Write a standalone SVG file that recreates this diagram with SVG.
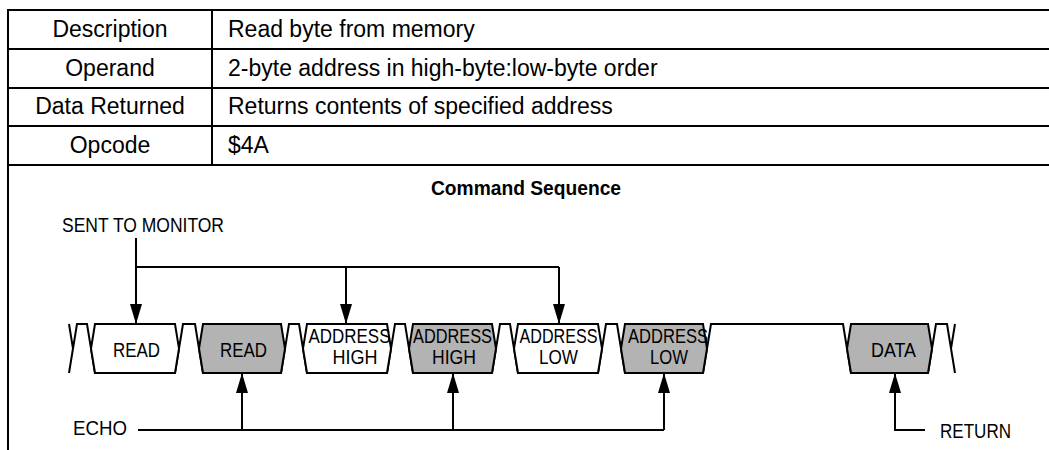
<svg xmlns="http://www.w3.org/2000/svg" width="1049" height="450" viewBox="0 0 1049 450">
<style>
.t{font-family:"Liberation Sans",Arial,sans-serif;font-size:23px;fill:#000}
.h{font-family:"Liberation Sans",Arial,sans-serif;font-size:21px;font-weight:bold;fill:#000}
.c{text-anchor:middle}
.s{font-family:"Liberation Sans",Arial,sans-serif;font-size:20px;fill:#000}
.ln{stroke:#000;stroke-width:2;fill:none}
.bw{fill:#fff;stroke:#000;stroke-width:2;stroke-linejoin:miter}
.bg{fill:#b3b3b3;stroke:#000;stroke-width:2;stroke-linejoin:miter}
.w{stroke:#000;stroke-width:2;fill:none}
</style>
<defs>
<marker id="ah" markerWidth="20" markerHeight="12" refX="20" refY="6" orient="auto" markerUnits="userSpaceOnUse" viewBox="0 0 20 12">
<path d="M0,0 L20,6 L0,12 Z" fill="#000"/>
</marker>
</defs>
<g id="table">
<path class="ln" d="M7,10 H1049 M7,49 H1049 M7,88 H1049 M7,126 H1049 M7,165 H1049 M8,10 V450 M212,10 V165"/>
<text class="t c" x="110" y="37">Description</text>
<text class="t" x="228" y="37">Read byte from memory</text>
<text class="t c" x="110" y="76">Operand</text>
<text class="t" x="228" y="76">2-byte address in high-byte:low-byte order</text>
<text class="t c" x="110" y="114">Data Returned</text>
<text class="t" x="228" y="114">Returns contents of specified address</text>
<text class="t c" x="110" y="153">Opcode</text>
<text class="t" x="228" y="153">$4A</text>
<text class="h c" x="526" y="195" textLength="190" lengthAdjust="spacingAndGlyphs">Command Sequence</text>
</g>
<g id="transitions">
<path class="w" d="M69,324 L73,348.5 L69,373 M69,373 L77,324 H87 L95,373
M175,373 L183,324 H195 L203,373
M281,373 L289,324 H299 L307,373
M387,373 L395,324 H405 L413,373
M492,373 L500,324 H510 L518,373
M598,373 L606,324 H617 L625,373
M703,373 L711,324 H843 L851,373
M928,373 L936,324 H947 L955,373
M955,324 L951,348.5 L955,373"/>
</g>
<g id="n1"><path class="bw" d="M95,324 H175 L179,348.5 L175,373 H95 L91,348.5 Z"/><text class="s c" x="136.5" y="357" textLength="47" lengthAdjust="spacingAndGlyphs">READ</text></g>
<g id="n2"><path class="bg" d="M203,324 H281 L285,348.5 L281,373 H203 L199,348.5 Z"/><text class="s c" x="243.5" y="357" textLength="47" lengthAdjust="spacingAndGlyphs">READ</text></g>
<g id="n3"><path class="bw" d="M307,324 H387 L391,348.5 L387,373 H307 L303,348.5 Z"/><text class="s c" x="349.5" y="343" textLength="82" lengthAdjust="spacingAndGlyphs">ADDRESS</text><text class="s c" x="355" y="364" textLength="45" lengthAdjust="spacingAndGlyphs">HIGH</text></g>
<g id="n4"><path class="bg" d="M413,324 H492 L496,348.5 L492,373 H413 L409,348.5 Z"/><text class="s c" x="452.5" y="343" textLength="79" lengthAdjust="spacingAndGlyphs">ADDRESS</text><text class="s c" x="454" y="364" textLength="44" lengthAdjust="spacingAndGlyphs">HIGH</text></g>
<g id="n5"><path class="bw" d="M518,324 H598 L602,348.5 L598,373 H518 L514,348.5 Z"/><text class="s c" x="558.5" y="343" textLength="78" lengthAdjust="spacingAndGlyphs">ADDRESS</text><text class="s c" x="558.5" y="364" textLength="39" lengthAdjust="spacingAndGlyphs">LOW</text></g>
<g id="n6"><path class="bg" d="M625,324 H703 L707,348.5 L703,373 H625 L621,348.5 Z"/><text class="s c" x="668" y="343" textLength="80" lengthAdjust="spacingAndGlyphs">ADDRESS</text><text class="s c" x="669" y="364" textLength="38" lengthAdjust="spacingAndGlyphs">LOW</text></g>
<g id="n7"><path class="bg" d="M851,324 H928 L932,348.5 L928,373 H851 L847,348.5 Z"/><text class="s c" x="893.5" y="357" textLength="45" lengthAdjust="spacingAndGlyphs">DATA</text></g>
<g id="labels">
<text class="s" x="62" y="232" textLength="162" lengthAdjust="spacingAndGlyphs">SENT TO MONITOR</text>
<text class="s" x="73" y="435" textLength="54" lengthAdjust="spacingAndGlyphs">ECHO</text>
<text class="s" x="940" y="438" textLength="71" lengthAdjust="spacingAndGlyphs">RETURN</text>
</g>
<g id="connectors">
<path class="ln" d="M136,238 V324" marker-end="url(#ah)"/>
<path class="ln" d="M136,267 H559"/>
<path class="ln" d="M346,267 V324" marker-end="url(#ah)"/>
<path class="ln" d="M559,267 V324" marker-end="url(#ah)"/>
<path class="ln" d="M138,430 H664"/>
<path class="ln" d="M242,430 V373" marker-end="url(#ah)"/>
<path class="ln" d="M453,430 V373" marker-end="url(#ah)"/>
<path class="ln" d="M664,430 V373" marker-end="url(#ah)"/>
<path class="ln" d="M925,430 H895 V373" marker-end="url(#ah)"/>
</g>
</svg>
